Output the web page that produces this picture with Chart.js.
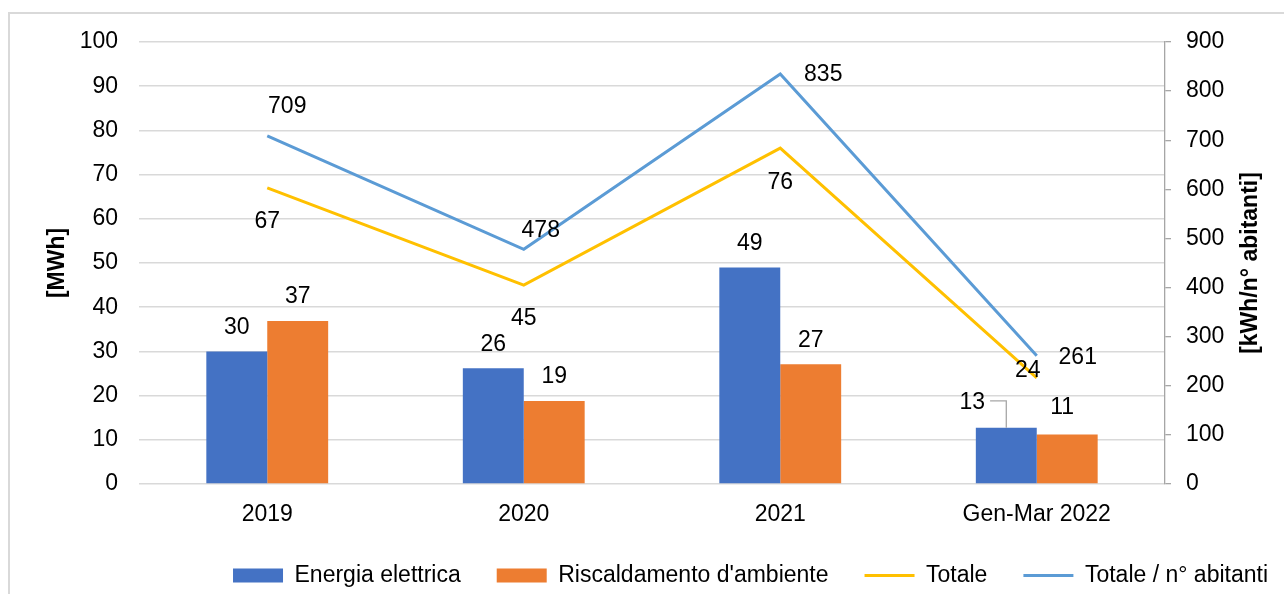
<!DOCTYPE html>
<html>
<head>
<meta charset="utf-8">
<script src="https://cdn.jsdelivr.net/npm/chart.js@4/dist/chart.umd.min.js"></script>
<style>
  html, body { margin: 0; padding: 0; background: #fff; overflow: hidden; }
  .frame { position: absolute; left: 8px; top: 12px; width: 1400px; height: 700px;
           border-left: 2px solid #d9d9d9; border-top: 2px solid #d9d9d9; }
  .wrap { position: absolute; left: 0; top: 0; width: 1284px; height: 594px; }
</style>
</head>
<body>
<div class="frame"></div>
<div class="wrap"><canvas id="chart" width="1284" height="594"></canvas></div>
<script>
// values
const categories = ['2019', '2020', '2021', 'Gen-Mar 2022'];
const energiaElettrica = [30, 26.2, 49, 12.7];
const riscaldamento = [36.9, 18.8, 27.1, 11.2];
const totale = [67, 45, 76, 24];
const totalePerAbitante = [709, 478, 835, 261];
const leftTicks = [0, 100, 10];   // min, max, step  [MWh]
const rightTicks = [0, 900, 100]; // min, max, step  [kWh/n° abitanti]
const leftTitle = '[MWh]';
const rightTitle = '[kWh/n° abitanti]';

const FONT = 'Liberation Sans, Arial, sans-serif';
const FS = 23;

// where each value label sits relative to its mark (dx, dy from the point / bar top)
const labelOffsets = {
  0: [[0, -24], [0, -24], [0, -24], [-34, -25]],
  1: [[0, -24], [0, -24], [0, -24], [-5, -27]],
  2: [[0, 34], [0, 34], [0, 35], [-9, -7]],
  3: [[20, -29], [17, -19], [43, 1], [41, 2]]
};

const valueLabels = {//draws the data labels, the leader line of the small blue bar and the right axis title
  id: 'valueLabels',
  afterDatasetsDraw(chart) {
    const ctx = chart.ctx;
    ctx.save();
    ctx.font = FS + 'px ' + FONT;
    ctx.fillStyle = '#000';
    ctx.textAlign = 'center';
    ctx.textBaseline = 'middle';
    chart.data.datasets.forEach((ds, di) => {
      const meta = chart.getDatasetMeta(di);
      meta.data.forEach((el, i) => {
        const off = labelOffsets[di][i];
        const txt = String(Math.round(ds.data[i]));
        const x = el.x + off[0], y = el.y + off[1];
        ctx.fillText(txt, x, y);
        if (di === 0 && i === 3) {//leader line
          const w = ctx.measureText(txt).width;
          ctx.strokeStyle = '#a6a6a6';
          ctx.lineWidth = 1.3;
          ctx.beginPath();
          ctx.moveTo(x + w / 2 + 5, y - 2);
          ctx.lineTo(el.x, y - 2);
          ctx.lineTo(el.x, el.y);
          ctx.stroke();
        }
      });
    });
    // right axis title, reading bottom to top like the left one
    const area = chart.chartArea;
    ctx.font = 'bold ' + FS + 'px ' + FONT;
    ctx.translate(area.right + 86, (area.top + area.bottom) / 2);
    ctx.rotate(-Math.PI / 2);
    ctx.fillText(rightTitle, 0, 0);
    ctx.restore();
  }
};

new Chart(document.getElementById('chart'), {
  type: 'bar',
  data: {
    labels: categories,
    datasets: [
      { label: 'Energia elettrica', data: energiaElettrica, backgroundColor: '#4472c4',
        yAxisID: 'y', categoryPercentage: 0.475, barPercentage: 1, pointStyle: 'rect' },
      { label: "Riscaldamento d'ambiente", data: riscaldamento, backgroundColor: '#ed7d31',
        yAxisID: 'y', categoryPercentage: 0.475, barPercentage: 1, pointStyle: 'rect' },
      { type: 'line', label: 'Totale', data: totale, borderColor: '#ffc000', backgroundColor: '#ffc000',
        borderWidth: 3, pointRadius: 0, pointStyle: 'line', yAxisID: 'y', tension: 0 },
      { type: 'line', label: 'Totale / n° abitanti', data: totalePerAbitante, borderColor: '#5b9bd5',
        backgroundColor: '#5b9bd5', borderWidth: 3, pointRadius: 0, pointStyle: 'line', yAxisID: 'y1', tension: 0 }
    ]
  },
  options: {
    responsive: false,
    animation: false,
    layout: { padding: { top: 42, left: 0, right: -20, bottom: 0 } },
    plugins: {
      tooltip: { enabled: false },
      legend: {
        position: 'bottom',
        align: 'end',
        maxHeight: 66,
        labels: {
          usePointStyle: true,
          pointStyleWidth: 50,
          boxHeight: 14,
          padding: 36,
          color: '#000',
          font: { family: FONT, size: FS }
        }
      }
    },
    scales: {
      x: {
        grid: { display: false, drawTicks: false },
        border: { display: false },
        ticks: { color: '#000', padding: 17, font: { family: FONT, size: FS } },
        afterFit: s => { s.height = 44; }
      },
      y: {
        position: 'left',
        min: leftTicks[0], max: leftTicks[1],
        ticks: { stepSize: leftTicks[2], color: '#000', padding: 21, font: { family: FONT, size: FS } },
        grid: { color: '#d9d9d9', lineWidth: 1.5, drawTicks: false },
        border: { display: false },
        title: { display: true, text: leftTitle, color: '#000', padding: { top: 44, bottom: 0 },
                 font: { family: FONT, size: FS, weight: 'bold' } },
        afterFit: s => { s.width = 139; }
      },
      y1: {
        position: 'right',
        min: rightTicks[0], max: rightTicks[1],
        ticks: { stepSize: rightTicks[2], color: '#000', padding: 15, font: { family: FONT, size: FS } },
        grid: { drawOnChartArea: false, color: '#a6a6a6', tickLength: 6, lineWidth: 1.3 },
        border: { display: true, color: '#a6a6a6', width: 1.3 },
        afterFit: s => { s.width = 139; }
      }
    }
  },
  plugins: [valueLabels]
});
</script>
</body>
</html>
